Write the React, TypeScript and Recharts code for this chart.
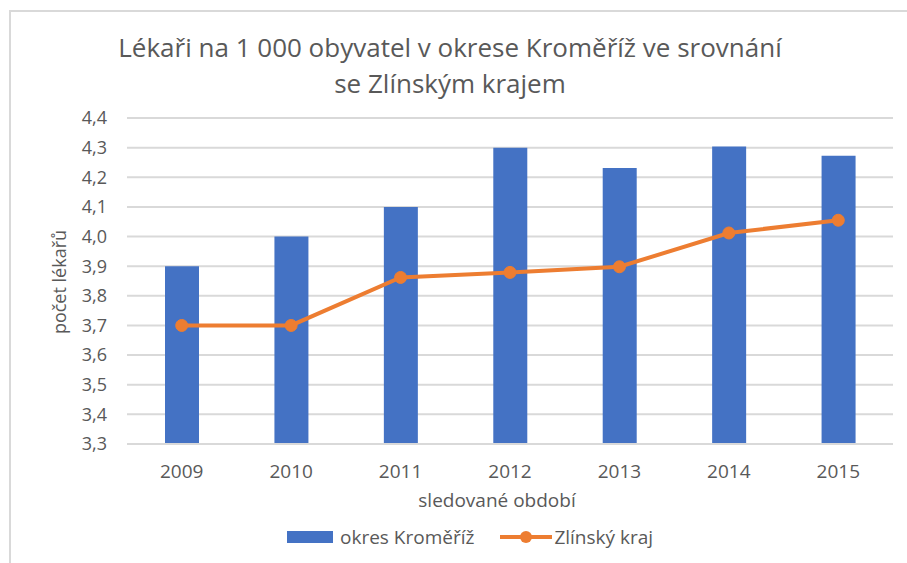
import { ComposedChart, Bar, Line, XAxis, YAxis, CartesianGrid } from 'recharts';

const years = ['2009', '2010', '2011', '2012', '2013', '2014', '2015'];
const okresKromeriz = [3.9, 4.0, 4.1, 4.3, 4.231, 4.304, 4.273];
const zlinskyKraj = [3.7, 3.7, 3.862, 3.879, 3.898, 4.012, 4.055];
const yTicks = [3.3, 3.4, 3.5, 3.6, 3.7, 3.8, 3.9, 4.0, 4.1, 4.2, 4.3, 4.4];

const data = years.map((y, i) => ({ year: y, okres: okresKromeriz[i], kraj: zlinskyKraj[i] }));

const BLUE = '#4472C4';
const ORANGE = '#ED7D31';
const TEXT = '#595959';
const FONT = '"Open Sans", sans-serif';

const fmt = (v: number) => v.toFixed(1).replace('.', ',');

function LegendBox() {
  return (
    <div style={{ position: 'absolute', left: 287, top: 524, display: 'flex', alignItems: 'center', fontFamily: FONT, fontSize: 19, color: TEXT }}>
      <div style={{ width: 46, height: 12, background: BLUE }} />
      <span style={{ marginLeft: 7 }}>okres Kroměříž</span>
      <svg width={52} height={14} style={{ marginLeft: 26 }}>
        <line x1={0} y1={7} x2={52} y2={7} stroke={ORANGE} strokeWidth={4} />
        <circle cx={26} cy={7} r={6} fill={ORANGE} />
      </svg>
      <span style={{ marginLeft: 2 }}>Zlínský kraj</span>
    </div>
  );
}

export default function App() {
  return (
    <div style={{ position: 'absolute', left: 0, top: 0, width: 907, height: 563, background: '#fff', overflow: 'hidden' }}>
      <div style={{ position: 'absolute', left: 9, top: 10, width: 910, height: 570, borderTop: '2px solid #d9d9d9', borderLeft: '2px solid #d9d9d9' }} />
      <div style={{ position: 'absolute', left: 0, top: 29, width: 900, textAlign: 'center', fontFamily: FONT, fontSize: 26, lineHeight: '36px', color: TEXT }}>
        Lékaři na 1 000 obyvatel v okrese Kroměříž ve srovnání
        <br />
        se Zlínským krajem
      </div>
      <ComposedChart width={907} height={563} data={data} margin={{ top: 118, right: 14, bottom: 89, left: 67 }} style={{ position: 'absolute', left: 0, top: 0 }}>
        <CartesianGrid vertical={false} stroke="#d9d9d9" strokeWidth={2} />
        <XAxis dataKey="year" height={30} axisLine={{ stroke: '#d9d9d9', strokeWidth: 2 }} tickLine={false} tickMargin={15} tick={{ fill: TEXT, fontSize: 19, fontFamily: FONT }} />
        <YAxis domain={[3.3, 4.4]} ticks={yTicks} interval={0} width={60} axisLine={false} tickLine={false} tickSize={0} tickMargin={20} tickFormatter={fmt} tick={{ fill: TEXT, fontSize: 18, fontFamily: FONT }} />
        <Bar dataKey="okres" name="okres Kroměříž" fill={BLUE} barSize={34} isAnimationActive={false} />
        <Line dataKey="kraj" name="Zlínský kraj" stroke={ORANGE} strokeWidth={4} dot={{ r: 6, fill: ORANGE, stroke: ORANGE, strokeWidth: 1 }} isAnimationActive={false} />
        <text x={59} y={282} transform="rotate(-90 59 282)" textAnchor="middle" dominantBaseline="central" fill={TEXT} fontSize={18} fontFamily={FONT}>počet lékařů</text>
        <text x={497} y={500} textAnchor="middle" dominantBaseline="central" fill={TEXT} fontSize={19} fontFamily={FONT}>sledované období</text>
      </ComposedChart>
      <LegendBox />
    </div>
  );
}
